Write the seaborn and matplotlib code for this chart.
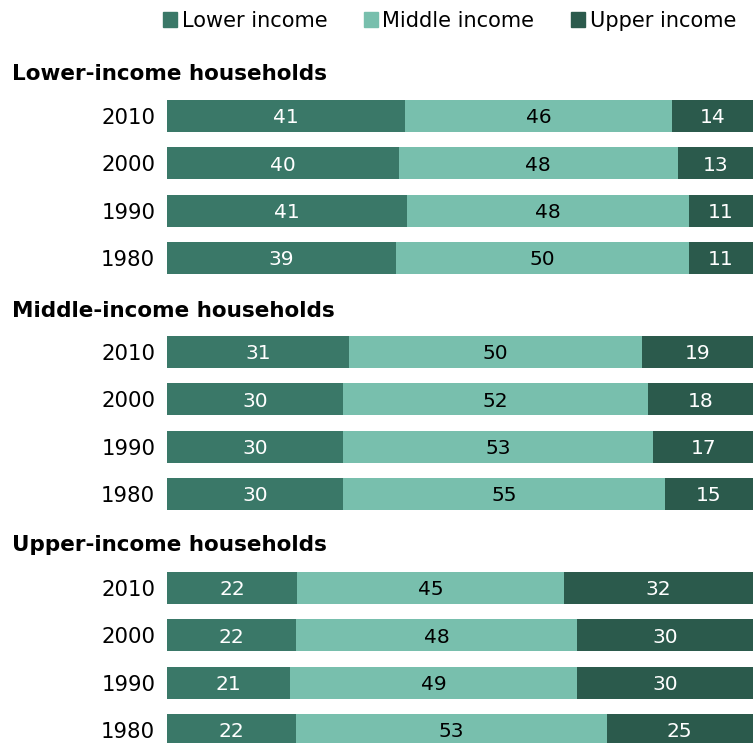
import matplotlib
matplotlib.use("Agg")
import matplotlib.pyplot as plt
import matplotlib.patches as mpatches
import seaborn as sns
import pandas as pd
import numpy as np

sns.set_theme(style="white")
plt.rcParams['font.family'] = ['DejaVu Sans']

groups = ["Lower-income households", "Middle-income households", "Upper-income households"]
years = ["2010", "2000", "1990", "1980"]
series = ["Lower income", "Middle income", "Upper income"]
lower_vals = [[41, 40, 41, 39], [31, 30, 30, 30], [22, 22, 21, 22]]
middle_vals = [[46, 48, 48, 50], [50, 52, 53, 55], [45, 48, 49, 53]]
upper_vals = [[14, 13, 11, 11], [19, 18, 17, 15], [32, 30, 30, 25]]
colors = ["#3a7868", "#78bfad", "#2b5a4c"]
text_colors = ["white", "black", "white"]

fig = plt.figure(figsize=(7.53, 7.43), dpi=100)
W, H = 753, 743
left_px, right_px = 167, 753
ax_tops = [92.4, 328.4, 564.4]
ax_h = 189.2
title_y = [74, 311, 545]

for g in range(3):
    df = pd.DataFrame({"year": years, "Lower income": lower_vals[g],
                       "Middle income": middle_vals[g], "Upper income": upper_vals[g]})
    tot = df[series].sum(axis=1)
    shares = df[series].div(tot, axis=0) * 100
    cum = shares.cumsum(axis=1)
    ax = fig.add_axes([left_px / W, 1 - (ax_tops[g] + ax_h) / H,
                       (right_px - left_px) / W, ax_h / H])
    for i in reversed(range(3)):
        sns.barplot(x=cum[series[i]], y=df["year"], order=years, color=colors[i],
                    width=0.68, ax=ax, orient="h", saturation=1, linewidth=0)
    for i in range(3):
        centers = cum[series[i]] - shares[series[i]] / 2
        for j in range(len(years)):
            ax.text(centers[j], j + 0.04, str(df[series[i]][j]), ha="center", va="center",
                    color=text_colors[i], fontsize=14.5)
    ax.set_xlim(0, 100)
    ax.set_xlabel("")
    ax.set_ylabel("")
    ax.set_xticks([])
    ax.tick_params(axis="y", length=0, labelsize=15.3, pad=8.5)
    for t in ax.get_yticklabels():
        t.set_color("black")
    for s in ax.spines.values():
        s.set_visible(False)
    fig.text(12 / W, 1 - title_y[g] / H, groups[g], fontsize=15.5, fontweight="bold",
             ha="left", va="center", color="black")

handles = [mpatches.Patch(color=c, label=s) for c, s in zip(colors, series)]
fig.legend(handles=handles, loc="center right", bbox_to_anchor=(736 / W, 1 - 21 / H),
           ncol=3, frameon=False, fontsize=15, handlelength=0.7, handleheight=0.7,
           handletextpad=0.2, columnspacing=1.75, borderaxespad=0, borderpad=0,
           labelcolor="black")

fig.savefig("out.png", dpi=100)
